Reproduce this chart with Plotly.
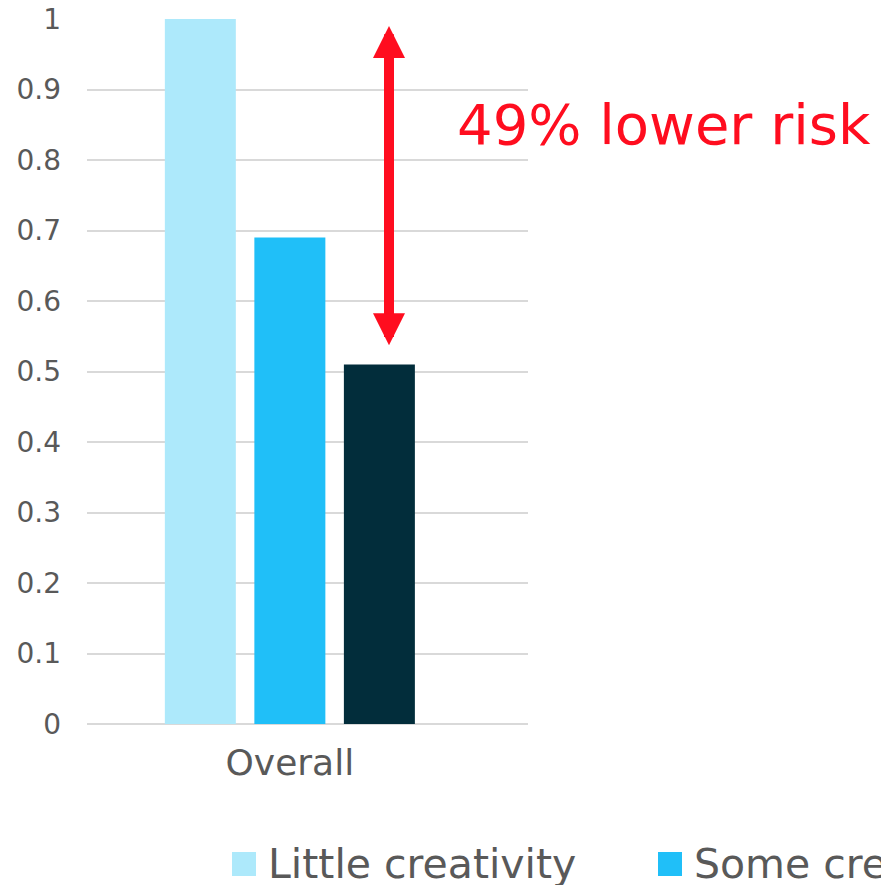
import plotly.graph_objects as go

# Data
categories = ["Overall"]
series_names = ["Little creativity", "Some creativity", "High creativity"]
series_values = [[1.0], [0.69], [0.51]]
series_colors = ["#ADE9FB", "#20BFF8", "#022D3B"]
y_tick_values = [0, 0.1, 0.2, 0.3, 0.4, 0.5, 0.6, 0.7, 0.8, 0.9, 1]
y_tick_labels = ["0", "0.1", "0.2", "0.3", "0.4", "0.5", "0.6", "0.7", "0.8", "0.9", "1"]
arrow_top_value = 0.99
arrow_bottom_value = 0.535
callout_text = "49% lower risk"

# Layout geometry (pixels)
W, H = 881, 885
PLOT_L, PLOT_R, PLOT_T, PLOT_B = 87, 528, 19, 724
FONT = "DejaVu Sans"
GREY_TEXT = "#595959"
GRID = "#D9D9D9"
RED = "#FF0D1F"


def px_to_paper_x(px):
    return (px - PLOT_L) / (PLOT_R - PLOT_L)


def px_to_paper_y(py):
    return (PLOT_B - py) / (PLOT_B - PLOT_T)


fig = go.Figure()
for name, vals, color in zip(series_names, series_values, series_colors):
    fig.add_trace(go.Bar(x=categories, y=vals, name=name,
                         marker=dict(color=color, line=dict(width=0))))

annotations = []
shapes = []

# Double-headed arrow marking the risk gap
annotations.append(dict(
    x=px_to_paper_x(389), xref="paper", y=arrow_top_value, yref="y",
    ax=0, axref="pixel", ay=arrow_bottom_value, ayref="y",
    text="", showarrow=True, arrowhead=2, startarrowhead=2,
    arrowside="end+start", arrowwidth=10, arrowsize=0.64, startarrowsize=0.64,
    arrowcolor=RED, standoff=0, startstandoff=0,
))
annotations.append(dict(
    x=px_to_paper_x(455), xref="paper", y=px_to_paper_y(124), yref="paper",
    text=callout_text, showarrow=False, xanchor="left", yanchor="middle",
    font=dict(family=FONT, size=56, color=RED),
))

# Legend row along the bottom edge
LEG_X0, LEG_STEP, LEG_Y, SW = 232, 426, 864, 24
for i, (name, color) in enumerate(zip(series_names, series_colors)):
    sx = LEG_X0 + i * LEG_STEP
    shapes.append(dict(
        type="rect", xref="paper", yref="paper",
        x0=px_to_paper_x(sx), x1=px_to_paper_x(sx + SW),
        y0=px_to_paper_y(LEG_Y + SW / 2), y1=px_to_paper_y(LEG_Y - SW / 2),
        fillcolor=color, line=dict(width=0),
    ))
    annotations.append(dict(
        x=px_to_paper_x(sx + 34), xref="paper", y=px_to_paper_y(LEG_Y), yref="paper",
        text=name, showarrow=False, xanchor="left", yanchor="middle",
        font=dict(family=FONT, size=41, color=GREY_TEXT),
    ))

fig.update_layout(
    width=W, height=H, autosize=False,
    margin=dict(l=PLOT_L, r=W - PLOT_R, t=PLOT_T, b=H - PLOT_B, pad=0, autoexpand=False),
    paper_bgcolor="white", plot_bgcolor="white",
    barmode="group", bargap=0.391, bargroupgap=0.207,
    showlegend=False,
    annotations=annotations, shapes=shapes,
    font=dict(family=FONT, color=GREY_TEXT),
)
fig.update_xaxes(
    type="category", range=[-0.46, 0.54], showgrid=False, zeroline=False,
    showline=False, ticks="", ticklabelstandoff=14, automargin=False,
    tickfont=dict(family=FONT, size=36, color=GREY_TEXT),
    fixedrange=True,
)
fig.update_yaxes(
    range=[0, 1], tickvals=y_tick_values, ticktext=y_tick_labels,
    showgrid=True, gridcolor=GRID, gridwidth=2,
    zeroline=True, zerolinecolor=GRID, zerolinewidth=2,
    showline=False, ticks="", ticklabelstandoff=25, automargin=False,
    tickfont=dict(family=FONT, size=28, color=GREY_TEXT),
    fixedrange=True,
)

fig.write_html("out.html")
